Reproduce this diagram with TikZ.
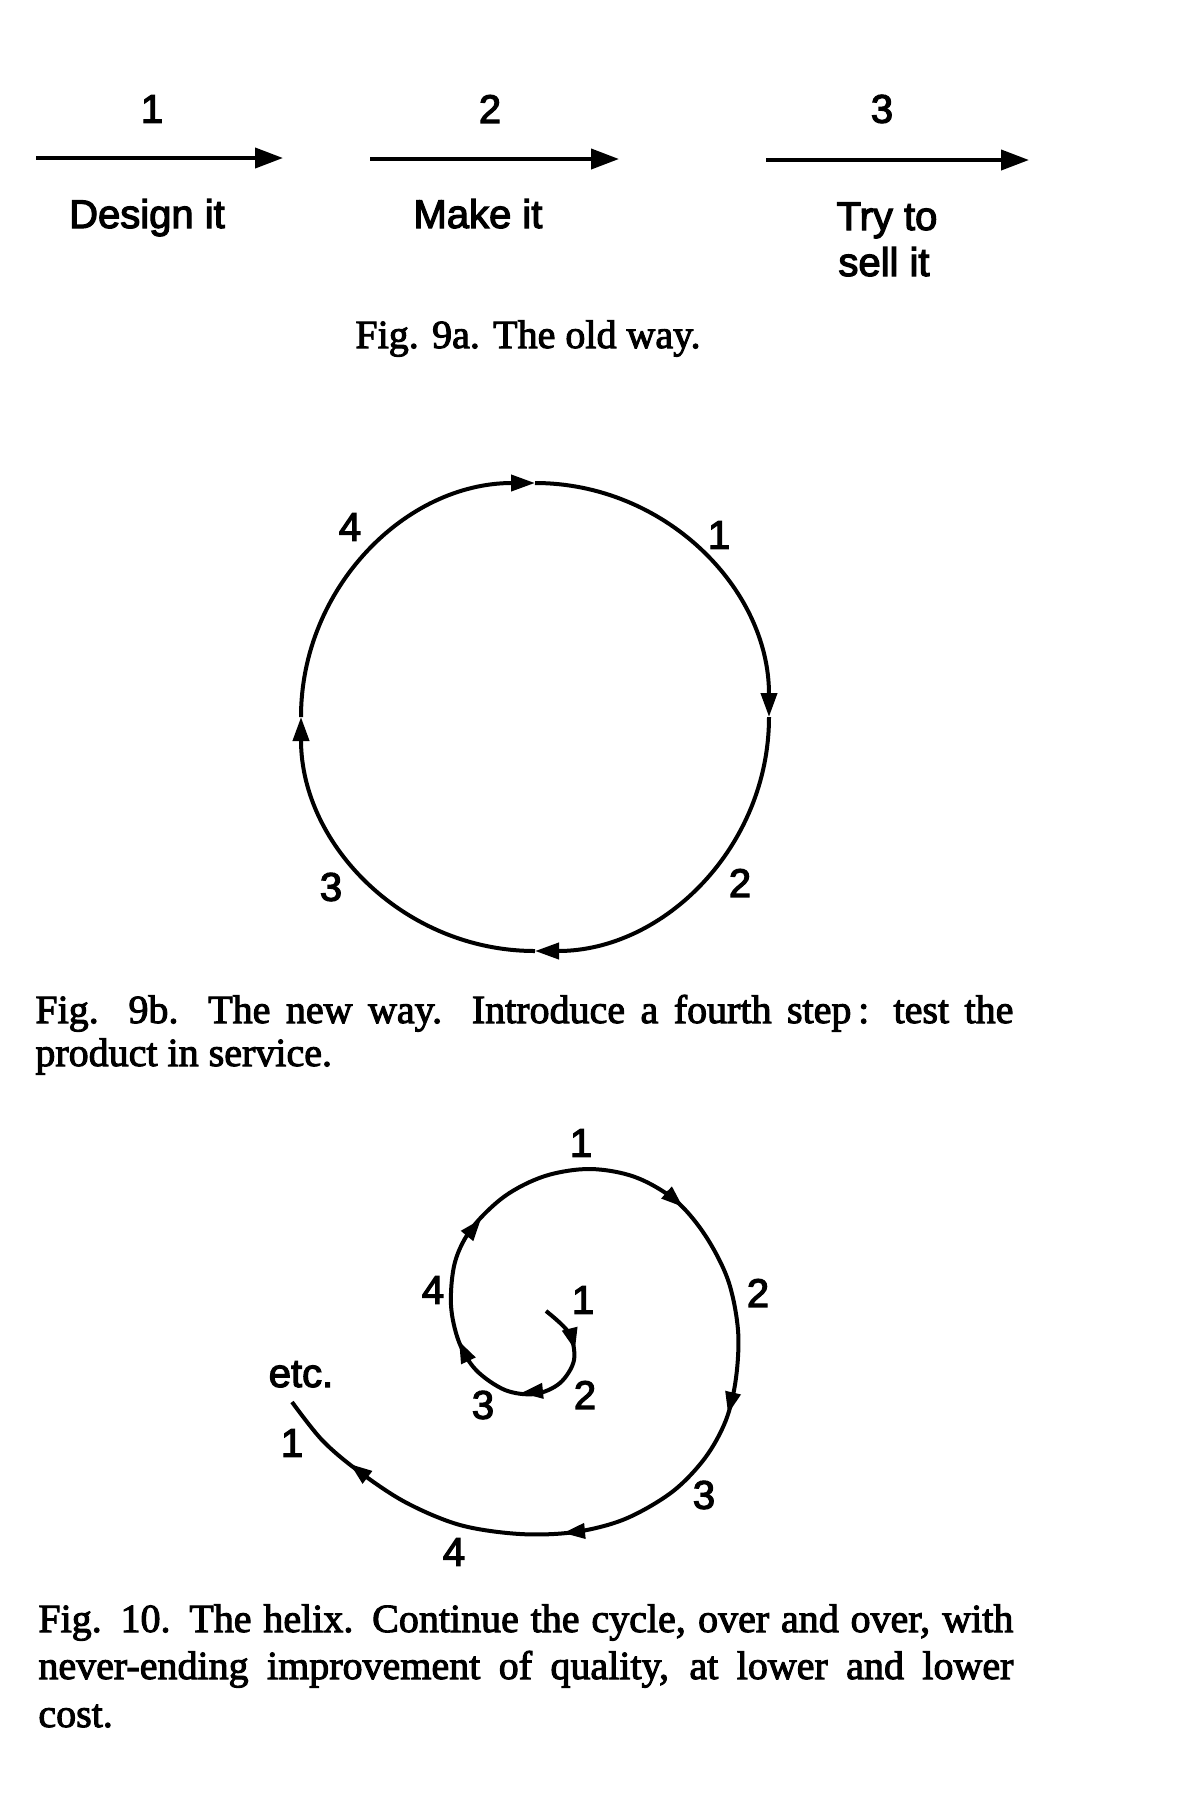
\documentclass[tikz,border=0pt]{standalone}
\usepackage{fontspec}
\setmainfont{Liberation Serif}[FakeBold=2.5]
\newfontfamily\labfont{Liberation Sans}[FakeBold=3]
\usetikzlibrary{arrows.meta}
\begin{document}
\begin{tikzpicture}[x=0.5pt,y=-0.5pt,
  lab/.style={font=\labfont\fontsize{20}{24}\selectfont, inner sep=0pt},
  capt/.style={font=\fontsize{20}{23}\selectfont, inner sep=0pt, anchor=base west},
  bigarrow/.style={line width=2pt, -{Triangle[length=14pt,width=10pt]}},
  cyc/.style={line width=2pt, -{Triangle[length=12pt,width=8pt]}},
  spi/.style={line width=2pt, -{Triangle[length=11pt,width=7.5pt]}},
  curve/.style={line width=2pt}]
\useasboundingbox (0,0) rectangle (1200,1800);

% ---------- Fig. 9a ----------
\coordinate (a1s) at (36,158);  \coordinate (a1e) at (283,158);
\coordinate (a2s) at (370,159); \coordinate (a2e) at (619,159);
\coordinate (a3s) at (766,160); \coordinate (a3e) at (1029,160);
\draw[bigarrow] (a1s) -- (a1e);
\draw[bigarrow] (a2s) -- (a2e);
\draw[bigarrow] (a3s) -- (a3e);
\node[lab] (n1) at (152,109) {1};
\node[lab] (n2) at (490,109) {2};
\node[lab] (n3) at (882,109) {3};
\node[lab, anchor=base] (design) at (147,228) {Design it};
\node[lab, anchor=base] (make) at (478,228) {Make it};
\node[lab, anchor=base] (try) at (887,230) {Try to};
\node[lab, anchor=base] (sell) at (884,276) {sell it};
\node[capt, anchor=base] (cap9a) at (528,348) {Fig. 9a. The old way.};

% ---------- Fig. 9b ----------
\coordinate (O) at (535,717);
\coordinate (cT) at (535,483); \coordinate (cR) at (769,717);
\coordinate (cB) at (535,951); \coordinate (cL) at (301,717);
\draw[cyc] (cT) arc[start angle=90, end angle=0, radius=117pt];
\draw[cyc] (cR) arc[start angle=0, end angle=-90, radius=117pt];
\draw[cyc] (cB) arc[start angle=-90, end angle=-180, radius=117pt];
\draw[cyc] (cL) arc[start angle=180, end angle=90, radius=117pt];
\node[lab] (c4) at (350,527) {4};
\node[lab] (c1) at (719,535) {1};
\node[lab] (c2) at (740,883) {2};
\node[lab] (c3) at (331,887) {3};
\node[capt] (cap9b1) at (35,1023) {\makebox[489pt][s]{Fig. 9b. The new way. Introduce a fourth step\,: test the}};
\node[capt] (cap9b2) at (35,1066) {product in service.};

% ---------- Fig. 10 ----------
\coordinate (P0) at (546,1311);
\coordinate (E) at (292,1402);
\draw[curve] plot[smooth, tension=0.55] coordinates {(P0) (569,1333) (574,1360) (560,1383) (535,1394) (505,1390) (476,1370) (459,1342) (451,1305) (455,1262) (472,1228) (505,1196) (545,1176) (590,1169) (635,1177) (675,1200) (705,1235) (728,1280) (738,1330) (736,1378) (726,1420) (705,1458) (672,1492) (625,1519) (575,1532) (520,1534) (460,1525) (405,1502) (357,1470) (322,1440) (E)};
% arrowheads along the spiral
\coordinate (B1) at (570,1330); \coordinate (A1) at (575,1350);
\coordinate (B2) at (541,1391); \coordinate (A2) at (521,1393);
\coordinate (B3) at (468,1360); \coordinate (A3) at (459,1341);
\coordinate (B4) at (467,1236); \coordinate (A4) at (481,1219);
\coordinate (B5) at (666,1192); \coordinate (A5) at (683,1207);
\coordinate (B6) at (733,1393); \coordinate (A6) at (728,1414);
\coordinate (B7) at (584,1531); \coordinate (A7) at (563,1533);
\coordinate (B8) at (367,1477); \coordinate (A8) at (350,1464);
\draw[spi] (B1) -- (A1);
\draw[spi] (B2) -- (A2);
\draw[spi] (B3) -- (A3);
\draw[spi] (B4) -- (A4);
\draw[spi] (B5) -- (A5);
\draw[spi] (B6) -- (A6);
\draw[spi] (B7) -- (A7);
\draw[spi] (B8) -- (A8);
\node[lab] (s1) at (581,1143) {1};
\node[lab] (s2) at (758,1293) {2};
\node[lab] (s3) at (704,1495) {3};
\node[lab] (s4) at (454,1552) {4};
\node[lab] (i4) at (433,1290) {4};
\node[lab] (i1) at (583,1300) {1};
\node[lab] (i2) at (585,1395) {2};
\node[lab] (i3) at (483,1405) {3};
\node[lab, anchor=base] (etc) at (301,1387) {etc.};
\node[lab] (e1) at (292,1443) {1};
\node[capt] (cap10a) at (38,1632) {\makebox[487.5pt][s]{Fig. 10. The helix. Continue the cycle, over and over, with}};
\node[capt] (cap10b) at (38,1679) {\makebox[487.5pt][s]{never-ending improvement of quality, at lower and lower}};
\node[capt] (cap10c) at (38,1727) {cost.};
\end{tikzpicture}
\end{document}
